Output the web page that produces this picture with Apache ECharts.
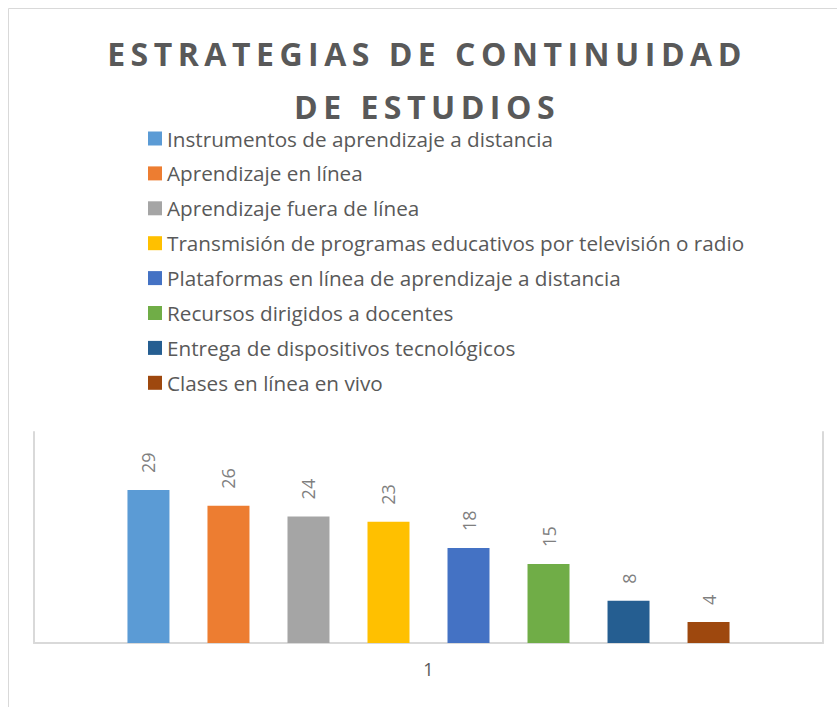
<!DOCTYPE html>
<html>
<head>
    <meta charset="UTF-8">
    <title>Estrategias de continuidad de estudios</title>
    <script src="https://cdn.jsdelivr.net/npm/echarts@6/dist/echarts.min.js" type="text/javascript"></script>
    <style>
        body { margin: 0; background: #fff; }
        /* espaciado de letras del título (solo el texto en negrita) */
        #grafico text[style*="bold"] { letter-spacing: 5.5px; }
    </style>
</head>
<body>
<div id="grafico" style="width:837px;height:707px"></div>
<script type="text/javascript">
    // datos del gráfico
    var categorias = ['1'];
    var estrategias = [
        'Instrumentos de aprendizaje a distancia',
        'Aprendizaje en línea',
        'Aprendizaje fuera de línea',
        'Transmisión de programas educativos por televisión o radio',
        'Plataformas en línea de aprendizaje a distancia',
        'Recursos dirigidos a docentes',
        'Entrega de dispositivos tecnológicos',
        'Clases en línea en vivo'
    ];
    var valores = [29, 26, 24, 23, 18, 15, 8, 4];
    var colores = ['#5b9bd5', '#ed7d31', '#a5a5a5', '#ffc000', '#4472c4', '#70ad47', '#255e91', '#9e480e'];

    var myChart = echarts.init(document.getElementById('grafico'), null, {renderer: 'svg'});

    var series = [];
    for (var i = 0; i < estrategias.length; i++) {
        series.push({
            name: estrategias[i],
            type: 'bar',
            data: [valores[i]],
            barWidth: 42,
            barGap: '90.5%',
            itemStyle: { color: colores[i] },
            label: {
                show: true,
                position: 'top',
                rotate: 90,
                align: 'left',
                verticalAlign: 'middle',
                distance: 17,
                color: '#7f7f7f',
                fontSize: 18,
                fontFamily: 'Open Sans'
            }
        });
    }

    var option = {
        backgroundColor: '#fff',
        animation: false,
        title: {
            text: 'ESTRATEGIAS DE CONTINUIDAD\nDE ESTUDIOS',
            left: 422,
            top: 22,
            textAlign: 'center',
            textStyle: {
                fontFamily: 'Open Sans',
                fontWeight: 'bold',
                fontSize: 32,
                lineHeight: 53,
                color: '#595959'
            }
        },
        legend: {
            orient: 'vertical',
            left: 148,
            top: 128,
            padding: 0,
            itemWidth: 14,
            itemHeight: 14,
            itemGap: 13.9,
            icon: 'rect',
            data: estrategias,
            textStyle: {
                fontFamily: 'Open Sans',
                fontSize: 20.7,
                lineHeight: 20,
                color: '#595959'
            }
        },
        grid: {
            left: 34,
            right: 14,
            top: 432,
            bottom: 64
        },
        xAxis: {
            type: 'category',
            data: categorias,
            axisLine: { lineStyle: { color: '#d9d9d9', width: 2 } },
            axisTick: { show: false },
            axisLabel: {
                margin: 17,
                color: '#595959',
                fontSize: 18,
                fontFamily: 'Open Sans'
            }
        },
        yAxis: [{
            type: 'value',
            min: 0,
            max: 40,
            axisLine: { show: true, lineStyle: { color: '#d9d9d9', width: 2 } },
            axisTick: { show: false },
            axisLabel: { show: false },
            splitLine: { show: false }
        }, {
            type: 'value',
            position: 'right',
            min: 0,
            max: 40,
            axisLine: { show: true, lineStyle: { color: '#d9d9d9', width: 2 } },
            axisTick: { show: false },
            axisLabel: { show: false },
            splitLine: { show: false }
        }],
        graphic: [{
            type: 'rect',
            silent: true,
            shape: { x: 8.5, y: 8.5, width: 1000, height: 1000 },
            style: { fill: 'none', stroke: '#d9d9d9', lineWidth: 1 }
        }],
        series: series
    };
    myChart.setOption(option);
</script>
</body>
</html>
